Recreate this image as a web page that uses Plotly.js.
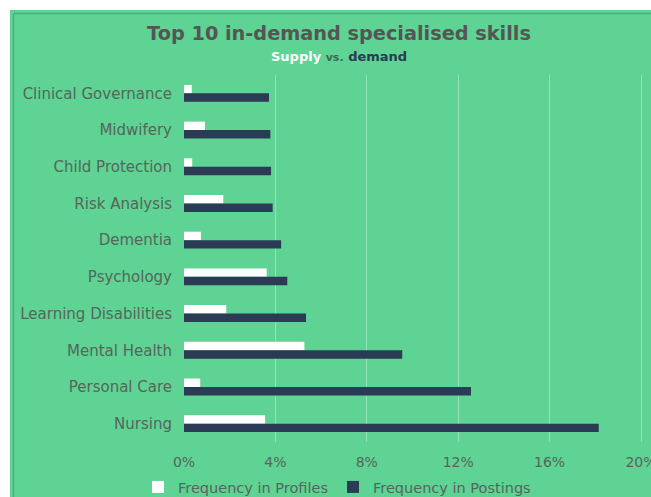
<!DOCTYPE html>
<html>
<head>
<meta charset="utf-8">
<script src="https://cdn.plot.ly/plotly-3.0.1.min.js"></script>
<style>html,body{margin:0;padding:0;background:#fff;}#chart{width:651px;height:497px;}</style>
</head>
<body>
<div id="chart"></div>
<script>
const skills = ["Clinical Governance","Midwifery","Child Protection","Risk Analysis","Dementia","Psychology","Learning Disabilities","Mental Health","Personal Care","Nursing"];
const profiles = [0.0034,0.0092,0.0036,0.0172,0.0074,0.0362,0.0185,0.0527,0.0071,0.0355];
const postings = [0.0372,0.0378,0.0381,0.0388,0.0425,0.0452,0.0534,0.0955,0.1256,0.1815];
const xTicks = [0,0.04,0.08,0.12,0.16,0.20];
const xTickLabels = ["0%","4%","8%","12%","16%","20%"];

const green = "#5ed393";
const navy = "#2b3a55";
const grey = "#55665b";
const fontFam = "'DejaVu Sans', sans-serif";

const traces = [
  {type:"bar", orientation:"h", name:"Frequency in Profiles", y:skills, x:profiles,
   marker:{color:"#ffffff"}, hoverinfo:"skip"},
  {type:"bar", orientation:"h", name:"Frequency in Postings", y:skills, x:postings,
   marker:{color:navy}, hoverinfo:"skip"}
];

const L=184, R=0, T=75, B=55, W=651, H=497;
const pw=W-L-R, ph=H-T-B;
const px=v=>(v-L)/pw, py=v=>(H-B-v)/ph;
const xMax = 0.2*pw/457;

const layout = {
  width:W, height:H,
  margin:{l:L,r:R,t:T,b:B,pad:0, autoexpand:false},
  paper_bgcolor:"#ffffff",
  plot_bgcolor:"rgba(0,0,0,0)",
  font:{family:fontFam, color:grey, size:13},
  barmode:"group", bargap:0.54, bargroupgap:0,
  title:{text:"<b>Top 10 in-demand specialised skills</b>", font:{family:fontFam, size:19.3, color:"#555555"},
         x:339/W, xref:"container", xanchor:"center", y:1-33/H, yref:"container", yanchor:"middle"},
  xaxis:{range:[0,xMax], tickvals:xTicks, ticktext:xTickLabels, showgrid:true, gridcolor:"rgba(255,255,255,0.35)", gridwidth:1,
         zeroline:false, showline:false, ticks:"", ticklabelstandoff:10, ticklabeloverflow:"allow",
         tickfont:{size:14,color:grey}, fixedrange:true, automargin:false},
  yaxis:{autorange:"reversed", showgrid:false, zeroline:false, showline:false, ticks:"", ticklabelstandoff:11,
         tickfont:{size:15,color:grey}, fixedrange:true, automargin:false},
  showlegend:true,
  legend:{orientation:"h", xref:"container", yref:"container", x:337/W, xanchor:"center", y:1-487/H, yanchor:"middle",
          font:{size:14.5,color:grey}, bgcolor:"rgba(0,0,0,0)", itemwidth:30, traceorder:"normal", tracegroupgap:0},
  shapes:[
    {type:"rect", xref:"paper", yref:"paper", x0:px(10), x1:px(W+5), y0:py(10), y1:py(H+5), fillcolor:green, line:{width:0}, layer:"below"},
    {type:"line", xref:"paper", yref:"paper", x0:px(14), x1:px(W+5), y0:py(13.5), y1:py(13.5), line:{color:"#47ae76", width:1.5}, layer:"below"},
    {type:"line", xref:"paper", yref:"paper", x0:px(13.5), x1:px(13.5), y0:py(13.5), y1:py(H+5), line:{color:"#47ae76", width:1.5}, layer:"below"}
  ],
  annotations:[
    {xref:"paper", yref:"paper", x:px(339), y:py(57), xanchor:"center", yanchor:"middle", showarrow:false,
     text:"<b><span style='color:#ffffff'>Supply</span> <span style='color:#3d6a50;font-size:11px'>vs.</span> <span style='color:#2b3a55'>demand</span></b>",
     font:{family:fontFam, size:13}}
  ]
};

Plotly.newPlot("chart", traces, layout, {staticPlot:true, displayModeBar:false});
</script>
</body>
</html>
